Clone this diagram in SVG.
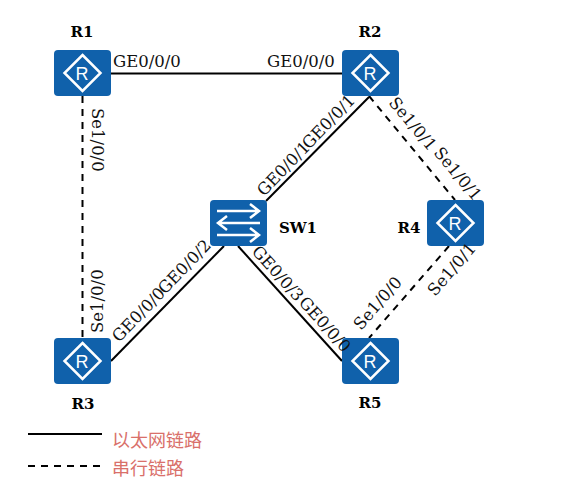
<svg xmlns="http://www.w3.org/2000/svg" width="569" height="500" viewBox="0 0 569 500">
<style>
text{font-family:"DejaVu Serif","Noto Sans CJK SC",serif;fill:#111}
.n{font-size:15px;font-weight:bold;fill:#000;text-anchor:middle}
.p{font-size:16.500px}
.l{font-family:"Noto Sans CJK SC",sans-serif;font-size:18px;fill:#d9706a}
.s{stroke:#000;stroke-width:2;fill:none}
.d{stroke:#000;stroke-width:2;fill:none;stroke-dasharray:7 6}
.b{fill:#1061ab}
.w{fill:none;stroke:#fff;stroke-width:2.500}
.g{font-family:"Liberation Sans",sans-serif;font-size:18px;fill:#fff;text-anchor:middle}
</style>
<defs>
<g id="router">
<rect class="b" width="57" height="46" rx="4"/>
<path class="w" d="M28.500 5L46.500 23L28.500 41L10.500 23Z"/>
</g>
</defs>
<g id="connectors">
<path class="s" d="M111 73.500H342"/>
<path class="d" d="M82.500 96V338"/>
<path class="s" d="M369 97L266 201"/>
<path class="d" d="M369 96L455 200"/>
<path class="s" d="M111 361L224 246"/>
<path class="s" d="M238 246L342 361"/>
<path class="d" d="M449 246L369 338"/>
<path class="s" d="M28 434H102"/>
<path class="d" d="M28 466H102"/>
</g>
<g id="R1"><use href="#router" x="54" y="50"/><text class="g" x="82" y="80">R</text><text class="n" x="82" y="37">R1</text></g>
<g id="R2"><use href="#router" x="342" y="50"/><text class="g" x="370" y="80">R</text><text class="n" x="370" y="37">R2</text></g>
<g id="R3"><use href="#router" x="54" y="338"/><text class="g" x="82" y="368">R</text><text class="n" x="83" y="409">R3</text></g>
<g id="R4"><use href="#router" x="427" y="200"/><text class="g" x="455" y="230">R</text><text class="n" x="409" y="233">R4</text></g>
<g id="R5"><use href="#router" x="342" y="338"/><text class="g" x="370" y="368">R</text><text class="n" x="370" y="408">R5</text></g>
<g id="SW1"><rect class="b" x="210" y="200" width="57" height="46" rx="4"/>
<path class="w" d="M217 211H258M250 204L259 211L250 218M218 223H260M227 216L218 223L227 230M217 235H259M250 228L259 235L250 242"/>
<text class="n" x="298" y="233">SW1</text></g>
<g id="labels">
<text class="p" x="113" y="67">GE0/0/0</text>
<text class="p" x="267" y="67">GE0/0/0</text>
<text class="p" transform="translate(92 108) rotate(90)">Se1/0/0</text>
<text class="p" transform="translate(103 333) rotate(-90)">Se1/0/0</text>
<text class="p" transform="translate(264 197) rotate(-46)">GE0/0/1</text>
<text class="p" transform="translate(309 150) rotate(-46)">GE0/0/1</text>
<text class="p" transform="translate(388 103) rotate(50)">Se1/0/1</text>
<text class="p" transform="translate(433 153) rotate(50)">Se1/0/1</text>
<text class="p" transform="translate(119 343) rotate(-46)">GE0/0/0</text>
<text class="p" transform="translate(165 295) rotate(-46)">GE0/0/2</text>
<text class="p" transform="translate(251 252) rotate(48)">GE0/0/3</text>
<text class="p" transform="translate(298 303) rotate(48)">GE0/0/0</text>
<text class="p" transform="translate(361 331) rotate(-49)">Se1/0/0</text>
<text class="p" transform="translate(435 297) rotate(-49)">Se1/0/1</text>
<text class="l" x="112" y="447">以太网链路</text>
<text class="l" x="112" y="475">串行链路</text>
</g>
</svg>
